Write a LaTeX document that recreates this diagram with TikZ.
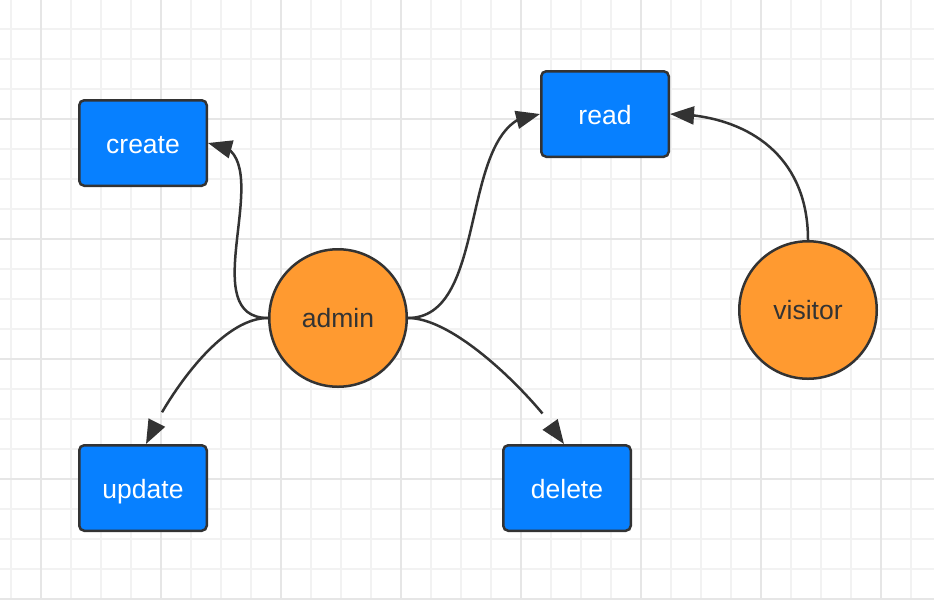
\documentclass[tikz,border=0pt]{standalone}
\usepackage{fontspec}
\setmainfont{Liberation Sans}
\usetikzlibrary{arrows.meta,bending,calc}
\definecolor{boxblue}{HTML}{0780FF}
\definecolor{roleorange}{HTML}{FF9A30}
\definecolor{edgegray}{HTML}{333333}
\definecolor{gridminor}{HTML}{F2F2F2}
\definecolor{gridmajor}{HTML}{E6E6E6}
\begin{document}
\begin{tikzpicture}[x=1pt,y=-1pt,
  box/.style={draw=edgegray, line width=2.5pt, fill=boxblue, rounded corners=5pt,
    minimum width=127.5pt, minimum height=85.5pt, text=white, inner sep=0pt,
    text height=21pt, text depth=0pt,
    font=\fontsize{26.5}{30}\selectfont},
  role/.style={circle, draw=edgegray, line width=2.5pt, fill=roleorange,
    minimum size=137.5pt, text=edgegray, inner sep=0pt,
    text height=18pt, text depth=0pt,
    font=\fontsize{26.5}{30}\selectfont},
  link/.style={draw=edgegray, line width=2.5pt,
    -{Triangle[length=24pt,width=18pt,fill=edgegray]}},
  gminor/.style={draw=gridminor, line width=1.5pt},
  gmajor/.style={draw=gridmajor, line width=2pt}
]
\fill[white] (0,0) rectangle (934,600);
\useasboundingbox (0,0) rectangle (934,600);
% grid
\foreach \x in {11,41,...,931} \draw[gminor] (\x,0) -- (\x,600);
\foreach \y in {29,59,...,599} \draw[gminor] (0,\y) -- (934,\y);
\foreach \x in {41,161,...,881} \draw[gmajor] (\x,0) -- (\x,600);
\foreach \y in {119,239,...,599} \draw[gmajor] (0,\y) -- (934,\y);
% nodes
\node[box] (create) at (143,143) {create};
\node[box] (read) at (605,114) {read};
\node[box] (update) at (143,488) {update};
\node[box] (delete) at (567,488) {delete};
\node[role] (admin) at (338,318) {admin};
\node[role] (visitor) at (808,310) {visitor};
% links
\draw[link] (admin.west) .. controls ($(admin.west)+(-80,0)$) and ($(create.east)+(80,0)$) .. (create.east);
\draw[link] (admin.east) .. controls ($(admin.east)+(85,0)$) and ($(read.west)+(-85,0)$) .. (read.west);
\draw[link] (admin.west) .. controls ($(admin.west)+(-55,0)$) and ($(update.north)+(12,-25)$) .. ($(update.north)+(3,0)$);
\draw[link] (admin.east) .. controls ($(admin.east)+(55,0)$) and ($(delete.north)+(-14,-25)$) .. ($(delete.north)+(-3,0)$);
\draw[link] (visitor.north) .. controls ($(visitor.north)+(0,-90)$) and ($(read.east)+(70,0)$) .. (read.east);
\end{tikzpicture}
\end{document}
